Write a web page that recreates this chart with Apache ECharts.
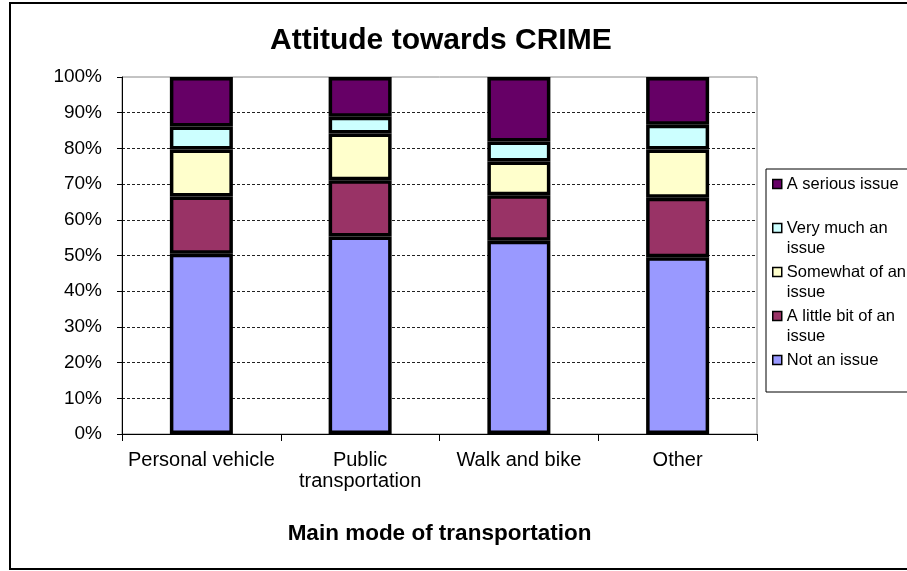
<!DOCTYPE html>
<html>
<head>
<meta charset="utf-8">
<title>Attitude towards CRIME</title>
<script src="https://cdn.jsdelivr.net/npm/echarts@6.0.0/dist/echarts.min.js"></script>
<style>
  html, body { margin: 0; padding: 0; background: #fff; }
  #main { width: 907px; height: 571px; }
</style>
</head>
<body>
<div id="main"></div>
<script>
// data (percent of respondents)
var categories = ["Personal vehicle", "Public\ntransportation", "Walk and bike", "Other"];
var notAnIssue = [50.5, 55.3, 54.1, 49.5];
var littleBit  = [16.0, 15.8, 12.8, 16.7];
var somewhat   = [13.2, 13.1, 9.4, 13.5];
var veryMuch   = [6.4, 4.7, 5.6, 6.9];
var serious    = [13.9, 11.1, 18.1, 13.4];

var seriesNames = ["Not an issue", "A little bit of an issue", "Somewhat of an issue", "Very much an issue", "A serious issue"];
// blank first line keeps the marker level with the first text line
var legendText = {
  "A serious issue": " \nA serious issue\n ",
  "Very much an issue": " \nVery much an\nissue",
  "Somewhat of an issue": " \nSomewhat of an\nissue",
  "A little bit of an issue": " \nA little bit of an\nissue",
  "Not an issue": " \nNot an issue\n "
};
var colors = ["#9999FF", "#993366", "#FFFFCC", "#CCFFFF", "#660066"];

var FONT = "Liberation Sans, Arial, sans-serif";

var chart = echarts.init(document.getElementById("main"));

function makeSeries(name, data, color) {
  return {
    name: name,
    type: "bar",
    stack: "total",
    barWidth: 63,
    data: data,
    itemStyle: { color: color, borderColor: "#000", borderWidth: 3.5 }
  };
}

chart.setOption({
  animation: false,
  backgroundColor: "#fff",
  title: {
    text: "Attitude towards CRIME",
    left: 270,
    top: 26,
    padding: 0,
    textStyle: { fontFamily: FONT, fontSize: 30, fontWeight: "bold", color: "#000" }
  },
  // outer frame and legend box
  graphic: [
    {
      type: "rect", z: -10, silent: true,
      shape: { x: 10, y: 3, width: 1000, height: 566 },
      style: { fill: "none", stroke: "#000", lineWidth: 2 }
    },
    {
      type: "rect", z: -5, silent: true,
      shape: { x: 766, y: 169, width: 200, height: 223 },
      style: { fill: "#fff", stroke: "#000", lineWidth: 1 }
    }
  ],
  legend: {
    orient: "vertical",
    left: 772,
    top: 154,
    padding: 0,
    itemGap: -16,
    itemWidth: 9,
    itemHeight: 9,
    icon: "rect",
    itemStyle: { borderColor: "#000", borderWidth: 1.5 },
    textStyle: { fontFamily: FONT, fontSize: 16.5, lineHeight: 20, color: "#000" },
    formatter: function (name) { return legendText[name]; },
    data: ["A serious issue", "Very much an issue", "Somewhat of an issue", "A little bit of an issue", "Not an issue"]
  },
  grid: {
    left: 122, right: 150, top: 77, bottom: 137,
    show: true, borderColor: "#888", borderWidth: 1,
    outerBoundsMode: "none"
  },
  xAxis: {
    type: "category",
    data: categories,
    name: "Main mode of transportation",
    nameLocation: "middle",
    nameGap: 88,
    nameTextStyle: { fontFamily: FONT, fontSize: 22.5, fontWeight: "bold", color: "#000" },
    axisLine: { lineStyle: { color: "#000", width: 1 } },
    axisTick: { show: true, length: 7, lineStyle: { color: "#000" } },
    axisLabel: { fontFamily: FONT, fontSize: 20, lineHeight: 21, color: "#000", margin: 16, interval: 0 }
  },
  yAxis: {
    type: "value",
    min: 0,
    max: 100,
    interval: 10,
    axisLine: { show: true, lineStyle: { color: "#000", width: 1 } },
    axisTick: { show: true, length: 5, lineStyle: { color: "#000" } },
    axisLabel: {
      fontFamily: FONT, fontSize: 19, color: "#000", margin: 20,
      formatter: "{value}%"
    },
    splitLine: {
      show: true,
      showMaxLine: false,
      lineStyle: { color: "#222", type: [3, 2], width: 1 }
    }
  },
  series: [
    makeSeries(seriesNames[0], notAnIssue, colors[0]),
    makeSeries(seriesNames[1], littleBit, colors[1]),
    makeSeries(seriesNames[2], somewhat, colors[2]),
    makeSeries(seriesNames[3], veryMuch, colors[3]),
    makeSeries(seriesNames[4], serious, colors[4])
  ]
});
</script>
</body>
</html>
